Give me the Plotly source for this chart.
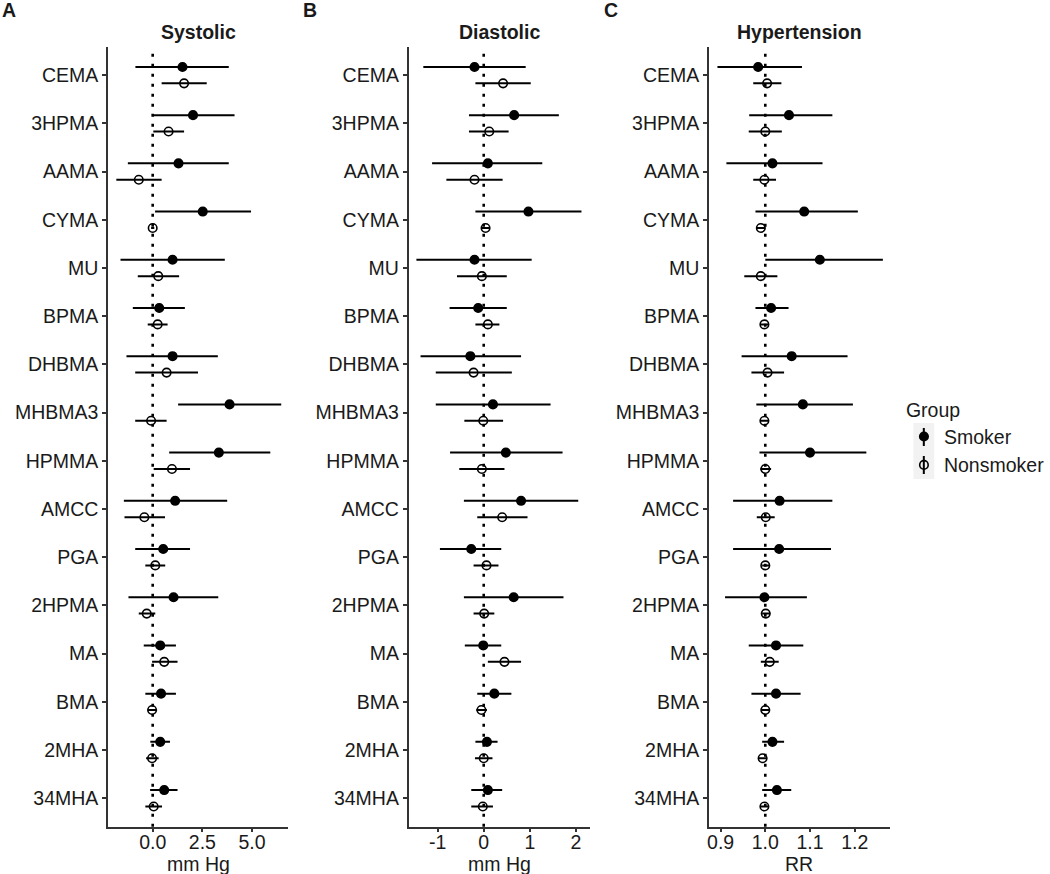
"""Forest plot of biomarker associations: systolic, diastolic, hypertension."""
import plotly.graph_objects as go

BIOMARKERS = ["CEMA", "3HPMA", "AAMA", "CYMA", "MU", "BPMA", "DHBMA", "MHBMA3",
              "HPMMA", "AMCC", "PGA", "2HPMA", "MA", "BMA", "2MHA", "34MHA"]

# --- Systolic (mm Hg) ---
sys_smk_est = [1.50, 2.03, 1.30, 2.52, 1.00, 0.33, 1.00, 3.87, 3.33, 1.13, 0.53, 1.05, 0.38, 0.42, 0.38, 0.58]
sys_smk_lo  = [-0.87, 0.00, -1.25, 0.12, -1.62, -1.00, -1.32, 1.28, 0.83, -1.45, -0.88, -1.22, -0.45, -0.37, -0.12, -0.13]
sys_smk_hi  = [3.83, 4.12, 3.83, 4.95, 3.63, 1.62, 3.28, 6.47, 5.92, 3.75, 1.88, 3.30, 1.17, 1.17, 0.87, 1.25]
sys_non_est = [1.58, 0.80, -0.70, 0.00, 0.28, 0.25, 0.70, -0.08, 0.97, -0.42, 0.13, -0.30, 0.58, -0.03, -0.03, 0.05]
sys_non_lo  = [0.45, 0.03, -1.83, -0.08, -0.75, -0.25, -0.88, -0.88, 0.05, -1.42, -0.37, -0.70, -0.03, -0.25, -0.33, -0.37]
sys_non_hi  = [2.72, 1.58, 0.45, 0.08, 1.33, 0.75, 2.28, 0.70, 1.88, 0.62, 0.63, 0.13, 1.25, 0.22, 0.30, 0.47]

# --- Diastolic (mm Hg) ---
dia_smk_est = [-0.20, 0.66, 0.09, 0.97, -0.20, -0.12, -0.29, 0.20, 0.48, 0.81, -0.27, 0.65, -0.01, 0.23, 0.07, 0.09]
dia_smk_lo  = [-1.31, -0.32, -1.12, -0.18, -1.46, -0.74, -1.37, -1.04, -0.73, -0.43, -0.95, -0.43, -0.41, -0.14, -0.18, -0.27]
dia_smk_hi  = [0.91, 1.63, 1.27, 2.12, 1.04, 0.50, 0.81, 1.45, 1.71, 2.05, 0.38, 1.73, 0.38, 0.60, 0.30, 0.40]
dia_non_est = [0.42, 0.12, -0.20, 0.04, -0.04, 0.09, -0.22, -0.01, -0.04, 0.40, 0.06, 0.01, 0.45, -0.05, 0.00, -0.02]
dia_non_lo  = [-0.18, -0.32, -0.81, -0.05, -0.58, -0.18, -1.04, -0.42, -0.53, -0.14, -0.22, -0.22, 0.09, -0.16, -0.19, -0.27]
dia_non_hi  = [1.02, 0.54, 0.41, 0.13, 0.50, 0.34, 0.61, 0.42, 0.45, 0.95, 0.32, 0.23, 0.81, 0.07, 0.19, 0.20]

# --- Hypertension (RR) ---
htn_smk_est = [0.984, 1.053, 1.016, 1.087, 1.122, 1.013, 1.059, 1.084, 1.100, 1.032, 1.031, 0.998, 1.024, 1.024, 1.016, 1.026]
htn_smk_lo  = [0.893, 0.964, 0.913, 0.978, 1.000, 0.978, 0.947, 0.980, 0.987, 0.928, 0.928, 0.910, 0.963, 0.969, 0.993, 0.993]
htn_smk_hi  = [1.082, 1.150, 1.128, 1.207, 1.263, 1.052, 1.184, 1.196, 1.226, 1.150, 1.147, 1.093, 1.085, 1.079, 1.042, 1.058]
htn_non_est = [1.004, 1.000, 0.998, 0.990, 0.990, 0.998, 1.005, 0.998, 1.000, 1.001, 1.000, 1.001, 1.010, 1.000, 0.994, 0.998]
htn_non_lo  = [0.973, 0.963, 0.973, 0.981, 0.953, 0.989, 0.969, 0.989, 0.989, 0.981, 0.993, 0.993, 0.990, 0.991, 0.985, 0.989]
htn_non_hi  = [1.036, 1.037, 1.024, 1.000, 1.027, 1.007, 1.042, 1.007, 1.013, 1.021, 1.009, 1.011, 1.030, 1.009, 1.004, 1.007]

PANELS = [
    ("A", "Systolic", "mm Hg", 0.0, [-2.25, 6.83], [0, 2.5, 5.0], ["0.0", "2.5", "5.0"],
     (sys_smk_est, sys_smk_lo, sys_smk_hi), (sys_non_est, sys_non_lo, sys_non_hi)),
    ("B", "Diastolic", "mm Hg", 0.0, [-1.63, 2.30], [-1, 0, 1, 2], ["-1", "0", "1", "2"],
     (dia_smk_est, dia_smk_lo, dia_smk_hi), (dia_non_est, dia_non_lo, dia_non_hi)),
    ("C", "Hypertension", "RR", 1.0, [0.874, 1.279], [0.9, 1.0, 1.1, 1.2], ["0.9", "1.0", "1.1", "1.2"],
     (htn_smk_est, htn_smk_lo, htn_smk_hi), (htn_non_est, htn_non_lo, htn_non_hi)),
]

W, H = 1050, 874
def fx(px):
    return px / W
def fy(py):
    return 1 - py / H

FONT = "Liberation Sans, Arial, sans-serif"
FS = 19.5
INK = "#1a1a1a"
AXC = "#333333"
X_DOMAINS = [(106.7, 288.3), (409.3, 591.7), (711.7, 894.0)]
Y_DOMAIN = [fy(826.7), fy(46.7)]
DODGE = 0.17
LETTER_X = [7.5, 310, 613]

n = len(BIOMARKERS)
ypos = [n - 1 - i for i in range(n)]

fig = go.Figure()
layout = dict(width=W, height=H, margin=dict(l=0, r=0, t=0, b=0),
              paper_bgcolor="white", plot_bgcolor="white",
              font=dict(family=FONT, size=FS, color=INK))
annotations, shapes = [], []

for k, (letter, title, xtitle, ref, xr, tv, tt, smk, non) in enumerate(PANELS):
    sfx = "" if k == 0 else str(k + 1)
    xa, ya = "x" + sfx, "y" + sfx
    for grp, (est, lo, hi), dy, sym in [("Smoker", smk, DODGE, "circle"),
                                        ("Nonsmoker", non, -DODGE, "circle-open")]:
        fig.add_trace(go.Scatter(
            x=est, y=[p + dy for p in ypos], xaxis=xa, yaxis=ya,
            mode="markers", name=grp, legendgroup=grp, showlegend=(k == 0),
            marker=dict(symbol=sym, size=8.5, color="black",
                        line=dict(color="black", width=1.6)),
            error_x=dict(type="data", symmetric=False,
                         array=[h - e for e, h in zip(est, hi)],
                         arrayminus=[e - l for e, l in zip(est, lo)],
                         width=0, thickness=2, color="black"),
        ))
    d0, d1 = X_DOMAINS[k]
    layout["xaxis" + sfx] = dict(
        domain=[fx(d0), fx(d1)], anchor=ya, range=xr, tickvals=tv, ticktext=tt,
        showgrid=False, zeroline=False, showline=True, linecolor=AXC, linewidth=1.5,
        ticks="outside", ticklen=4, tickwidth=1.5, tickcolor=AXC, tickfont=dict(size=FS),
        ticklabelstandoff=-7)
    layout["yaxis" + sfx] = dict(
        domain=Y_DOMAIN, anchor=xa, range=[-0.59, n - 0.41], tickvals=ypos,
        ticktext=BIOMARKERS, showgrid=False, zeroline=False, showline=True,
        linecolor=AXC, linewidth=1.5, ticks="outside", ticklen=4, tickwidth=1.5,
        tickcolor=AXC, tickfont=dict(size=FS))
    shapes.append(dict(type="line", xref=xa, yref=ya + " domain", x0=ref, x1=ref,
                       y0=0, y1=1, line=dict(color="black", width=2.6, dash="3px,7px"),
                       layer="below"))
    annotations.append(dict(text="<b>%s</b>" % title, xref=xa + " domain", yref="paper",
                            x=0.5, y=fy(32), xanchor="center", yanchor="middle",
                            showarrow=False, font=dict(size=FS)))
    annotations.append(dict(text=xtitle, xref=xa + " domain", yref="paper",
                            x=0.5, y=fy(864), xanchor="center", yanchor="middle",
                            showarrow=False, font=dict(size=FS)))
    annotations.append(dict(text="<b>%s</b>" % letter, xref="paper", yref="paper",
                            x=fx(LETTER_X[k]), y=fy(10), xanchor="center", yanchor="middle",
                            showarrow=False, font=dict(size=FS)))

# legend key backdrop and the vertical range line drawn through each key
LEG_X, LEG_Y = 908, 392
KEY_X = LEG_X + 20
KEY_YS = (LEG_Y + 45, LEG_Y + 73)
shapes.append(dict(type="rect", xref="paper", yref="paper",
                   x0=fx(KEY_X - 10.5), x1=fx(KEY_X + 10.5),
                   y0=fy(KEY_YS[1] + 14), y1=fy(KEY_YS[0] - 14),
                   fillcolor="#f2f2f2", line=dict(width=0), layer="below"))
for key_y in KEY_YS:
    shapes.append(dict(type="line", xref="paper", yref="paper", x0=fx(KEY_X), x1=fx(KEY_X),
                       y0=fy(key_y + 9), y1=fy(key_y - 9), line=dict(color="black", width=2),
                       layer="below"))

layout.update(
    annotations=annotations, shapes=shapes,
    legend=dict(title=dict(text="Group", font=dict(size=FS)), x=fx(LEG_X), y=fy(LEG_Y),
                xanchor="left", yanchor="top", font=dict(size=FS), itemwidth=30,
                tracegroupgap=0, bgcolor="rgba(0,0,0,0)"),
)
fig.update_layout(**layout)
# drop the browser's default 8px body margin so the figure sits at the page origin
fig.write_html("out.html", config={"displayModeBar": False},
               post_script="document.body.style.margin = '0';")
